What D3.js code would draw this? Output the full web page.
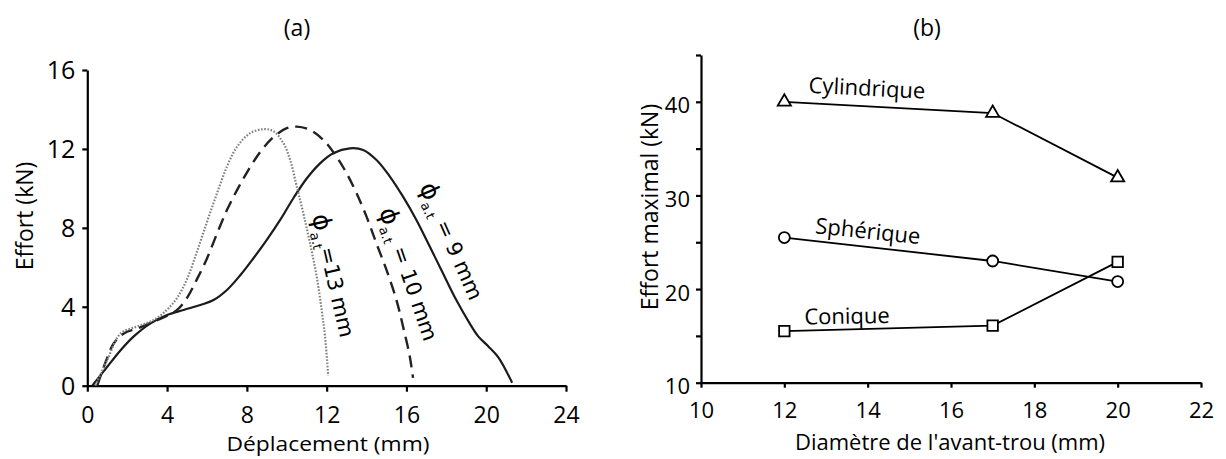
<!DOCTYPE html>
<html><head><meta charset="utf-8">
<script src="https://cdn.jsdelivr.net/npm/d3@7/dist/d3.min.js"></script>
<style>
body{margin:0;background:#fff}
svg{display:block}
text{font-family:'Open Sans',sans-serif;fill:#000}
</style>
</head><body>
<svg id="c" width="1226" height="459"></svg>
<script>
// ---------- Panel (a) data: Effort (kN) vs Déplacement (mm) ----------
const dep9  = [0.25,1.0,1.67,2.33,3.17,4.0,4.83,5.67,6.33,7.0,7.67,8.33,9.0,9.67,10.33,11.0,11.67,12.33,13.17,13.83,14.5,15.17,15.83,16.5,17.17,17.83,18.5,19.17,19.6,20.1,20.6,21.3];
const eff9  = [0,0.96,1.8,2.5,3.16,3.58,3.84,4.09,4.34,4.85,5.6,6.46,7.39,8.4,9.5,10.5,11.27,11.78,12.03,11.95,11.44,10.6,9.58,8.4,7.05,5.7,4.34,3.16,2.5,2.0,1.45,0.15];
const dep10 = [0.5,0.83,1.33,1.83,2.5,3.33,4.0,4.5,5.0,5.5,6.0,6.5,7.0,7.5,8.0,8.67,9.33,10.0,10.5,11.17,11.83,12.5,13.0,13.5,14.0,14.5,15.0,15.5,15.83,16.17,16.33];
const eff10 = [0,0.96,2.15,2.65,2.9,3.25,3.55,3.84,4.45,5.4,6.45,7.7,8.9,9.9,10.8,11.85,12.6,13.05,13.13,12.96,12.46,11.6,10.77,9.75,8.57,7.2,5.87,4.34,3.0,1.47,0.4];
const dep13 = [0.4,1.0,1.67,2.5,3.33,4.0,4.5,5.0,5.5,6.0,6.5,7.0,7.5,8.17,8.83,9.33,9.83,10.17,10.5,10.83,11.17,11.5,11.75,11.92,12.08];
const eff13 = [0,1.3,2.65,3.0,3.33,3.85,4.45,5.4,6.8,8.3,9.75,11.1,12.1,12.8,13.0,12.9,12.3,11.44,10.1,8.74,7.2,5.53,3.84,2.48,0.5];
const ticksAX = [0,4,8,12,16,20,24];
const ticksAY = [0,4,8,12,16];

// ---------- Panel (b) data: Effort maximal (kN) vs Diamètre de l'avant-trou ----------
const diam = [12,17,20];
const cylindrique = [40.0,38.8,31.9];
const spherique   = [25.5,23.0,20.8];
const conique     = [15.5,16.1,22.9];
const ticksBX = [10,12,14,16,18,20,22];
const ticksBY = [10,15,20,25,30,35,40,45];
const labelsBY = [10,20,30,40];

const svg = d3.select("#c");

// ================= Panel (a) =================
const xA = d3.scaleLinear().domain([0,24]).range([87.3,566]);
const yA = d3.scaleLinear().domain([0,16]).range([385.7,70]);

const gA = svg.append("g");
const axAX = gA.append("g").attr("transform",`translate(0,${yA(0)})`)
  .call(d3.axisBottom(xA).tickValues(ticksAX).tickSize(6).tickSizeOuter(0).tickFormat(d3.format("d")));
axAX.selectAll("text").attr("y",29).attr("dy","0.35em").style("font-size","23px");
const axAY = gA.append("g").attr("transform",`translate(${xA(0)},0)`)
  .call(d3.axisLeft(yA).tickValues(ticksAY).tickSize(5).tickPadding(7).tickSizeOuter(0).tickFormat(d3.format("d")));
axAY.selectAll("text").attr("dy","0.35em").style("font-size","25px");
[axAX,axAY].forEach(a=>{
  a.select(".domain").attr("stroke","#000").attr("stroke-width",2.2);
  a.selectAll(".tick line").attr("stroke","#000").attr("stroke-width",2.2);
  a.attr("font-family",null).attr("font-size",null);
});

const curves = [
  {x:dep9, y:eff9, dash:null, color:"#1b1b1b", w:2.2},
  {x:dep10,y:eff10,dash:"12,7", color:"#222", w:2.4},
  {x:dep13,y:eff13,dash:"1.6,1.6", color:"#808080", w:2.2}
];
const lineA = d3.line().x(d=>xA(d[0])).y(d=>yA(d[1])).curve(d3.curveCatmullRom.alpha(0.5));
curves.forEach(c=>{
  gA.append("path").datum(c.x.map((v,i)=>[v,c.y[i]]))
    .attr("d",lineA).attr("fill","none").attr("stroke",c.color)
    .attr("stroke-width",c.w).attr("stroke-dasharray",c.dash);
});

function phiLabel(x,y,ang,rest){
  const t = gA.append("text").attr("transform",`translate(${x},${y}) rotate(${ang})`)
    .style("font-size","21px").style("font-family","'DejaVu Sans',sans-serif");
  t.append("tspan").style("font-size","25px").text("ϕ");
  t.append("tspan").attr("dy",6).style("font-size","13px").text("a.t");
  t.append("tspan").attr("dy",-6).text(rest);
}
phiLabel(312,216,77,"=13 mm");
phiLabel(379,211,71," = 10 mm");
phiLabel(419,187,66," = 9 mm");

gA.append("text").attr("x",297).attr("y",28).attr("dy","0.35em").attr("text-anchor","middle")
  .style("font-size","23px").text("(a)");
gA.append("text").attr("transform","translate(328,444) scale(1.14,1)").attr("dy","0.35em").attr("text-anchor","middle")
  .style("font-size","20px").text("Déplacement (mm)");
gA.append("text").attr("transform","translate(25,216) rotate(-90)").attr("dy","0.35em").attr("text-anchor","middle")
  .style("font-size","23px").text("Effort (kN)");

// ================= Panel (b) =================
const xB = d3.scaleLinear().domain([10,22]).range([701,1201]);
const yB = d3.scaleLinear().domain([10,45]).range([382.7,55]);
const gB = svg.append("g");
const axBX = gB.append("g").attr("transform",`translate(0,${yB(10)})`)
  .call(d3.axisBottom(xB).tickValues(ticksBX).tickSize(5).tickSizeOuter(0).tickFormat(d3.format("d")));
axBX.selectAll("text").attr("y",28).attr("dy","0.35em").style("font-size","22px");
const axBY = gB.append("g").attr("transform",`translate(${xB(10)},0)`)
  .call(d3.axisLeft(yB).tickValues(ticksBY).tickSize(5).tickPadding(6).tickSizeOuter(0)
    .tickFormat(d=>labelsBY.includes(d)?d:""));
axBY.selectAll("text").attr("dy","0.5em").style("font-size","22px");
[axBX,axBY].forEach(a=>{
  a.select(".domain").attr("stroke","#000").attr("stroke-width",2.2);
  a.selectAll(".tick line").attr("stroke","#000").attr("stroke-width",2.2);
  a.attr("font-family",null).attr("font-size",null);
});

const lineB = d3.line().x(d=>xB(d[0])).y(d=>yB(d[1]));
const seriesB = [
  {v:cylindrique, sym:d3.symbolTriangle, size:75},
  {v:spherique, sym:d3.symbolCircle, size:95},
  {v:conique, sym:d3.symbolSquare, size:110}
];
seriesB.forEach(s=>{
  const pts = diam.map((d,i)=>[d,s.v[i]]);
  gB.append("path").datum(pts).attr("d",lineB).attr("fill","none").attr("stroke","#000").attr("stroke-width",1.8);
  gB.selectAll(null).data(pts).enter().append("path")
    .attr("d",d3.symbol().type(s.sym).size(s.size))
    .attr("transform",d=>`translate(${xB(d[0])},${yB(d[1])})`)
    .attr("fill","#fff").attr("stroke","#000").attr("stroke-width",1.8);
});

gB.append("text").attr("transform","translate(867,88) rotate(3)").attr("dy","0.35em").attr("text-anchor","middle")
  .style("font-size","22px").text("Cylindrique");
gB.append("text").attr("transform","translate(868,231) rotate(6)").attr("dy","0.35em").attr("text-anchor","middle")
  .style("font-size","22px").text("Sphérique");
gB.append("text").attr("transform","translate(847,316) rotate(-1)").attr("dy","0.35em").attr("text-anchor","middle")
  .style("font-size","22px").text("Conique");

gB.append("text").attr("x",927).attr("y",28).attr("dy","0.35em").attr("text-anchor","middle")
  .style("font-size","23px").text("(b)");
gB.append("text").attr("x",950).attr("y",442).attr("dy","0.35em").attr("text-anchor","middle")
  .style("font-size","22px").text("Diamètre de l'avant-trou (mm)");
gB.append("text").attr("transform","translate(650,207) rotate(-90)").attr("dy","0.35em").attr("text-anchor","middle")
  .style("font-size","23px").text("Effort maximal (kN)");
</script>
</body></html>
